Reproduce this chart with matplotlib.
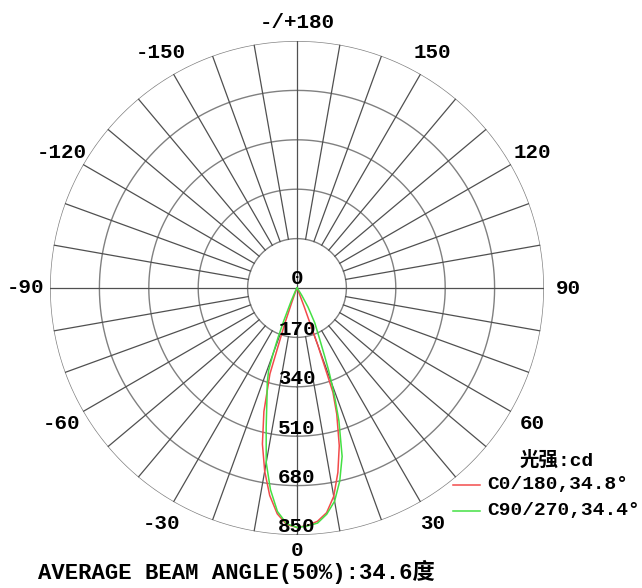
import numpy as np
import matplotlib
matplotlib.use("Agg")
import matplotlib.pyplot as plt
from matplotlib.lines import Line2D

plt.rcParams['font.family'] = ['Liberation Mono', 'Noto Sans CJK SC', 'DejaVu Sans']
plt.rcParams['font.weight'] = 'bold'

# gamma angles (deg) and luminous intensity (cd) per C-plane
gamma = [0, 2.5, 5, 7.5, 10, 12.5, 15, 17.5, 19, 20, 21, 22, 24, 27, 30, 33, 36, 40, 50, 60, 70, 80, 90]
c0 = [824, 818, 806, 780, 728, 650, 562, 455, 380, 210, 70, 25, 8, 4, 2, 1, 0, 0, 0, 0, 0, 0, 0]
c180 = [824, 815, 780, 720, 640, 550, 440, 310, 127, 50, 18, 8, 4, 2, 1, 0, 0, 0, 0, 0, 0, 0, 0]
c90 = [824, 820, 812, 785, 745, 680, 600, 480, 400, 350, 305, 256, 190, 135, 76, 30, 10, 3, 0, 0, 0, 0, 0]
c270 = [824, 812, 772, 700, 610, 490, 400, 340, 300, 240, 180, 120, 50, 15, 5, 2, 0, 0, 0, 0, 0, 0, 0]

ring_values = [170, 340, 510, 680, 850]
angle_ticks = [0, 30, 60, 90, 120, 150, 180, -150, -120, -90, -60, -30]
angle_labels = ['0', '30', '60', '90', '120', '150', '-/+180', '-150', '-120', '-90', '-60', '-30']

legend_title = '光强:cd'
series_labels = ['C0/180,34.8°', 'C90/270,34.4°']
series_colors = ['#f24b4b', '#44e044']
footer = 'AVERAGE BEAM ANGLE(50%):34.6度'

W, H = 642, 588
fig = plt.figure(figsize=(W / 100, H / 100), dpi=100)
cx, cy, R = 297, 288, 247
ax = fig.add_axes([(cx - R) / W, (H - cy - R) / H, 2 * R / W, 2 * R / H], projection='polar')
ax.set_theta_zero_location('S')
ax.set_theta_direction(1)
ax.set_ylim(0, ring_values[-1])
ax.axis('off')

# grid: rings and spokes
full = np.linspace(0, 2 * np.pi, 721)
for rv in ring_values:
    ax.plot(full, np.full_like(full, rv), color='#808080', lw=1.0, zorder=1)
for a in range(0, 360, 10):
    r0 = 0 if a % 90 == 0 else ring_values[0]
    ax.plot([np.radians(a)] * 2, [r0, ring_values[-1]], color='#505050', lw=0.9, zorder=1)

# intensity curves
def closed_curve(right, left):
    g = np.radians(gamma)
    th = np.concatenate([-g[::-1], g[1:]])
    rr = np.concatenate([np.array(left)[::-1], np.array(right)[1:]])
    return th, rr

for (right, left), col in zip([(c0, c180), (c90, c270)], series_colors):
    th, rr = closed_curve(right, left)
    ax.plot(th, rr, color=col, lw=1.1, zorder=3)

# labels
fs = 15
ax.text(0, 0, '0', ha='center', va='bottom', fontsize=fs, zorder=4)
for rv in ring_values:
    ax.text(0, rv + 5, str(rv), ha='center', va='bottom', fontsize=fs, zorder=4)
for a, lab in zip(angle_ticks, angle_labels):
    lr = 905 if a == 0 else (915 if a == 180 else 935)
    ax.text(np.radians(a), lr, lab, ha='center', va='center', fontsize=fs, clip_on=False)

# legend
fig.text(520 / W, 1 - 460 / H, legend_title, ha='left', va='center', fontsize=14)
for i, (lab, col) in enumerate(zip(series_labels, series_colors)):
    y = 1 - (485 + 26 * i) / H
    fig.add_artist(Line2D([453 / W, 480 / W], [y, y], color=col, lw=1.1))
    fig.text(487 / W, y, lab, ha='left', va='center', fontsize=14)

fig.text(38 / W, 1 - 572 / H, footer, ha='left', va='center', fontsize=16)

fig.savefig('out.png', dpi=100)
